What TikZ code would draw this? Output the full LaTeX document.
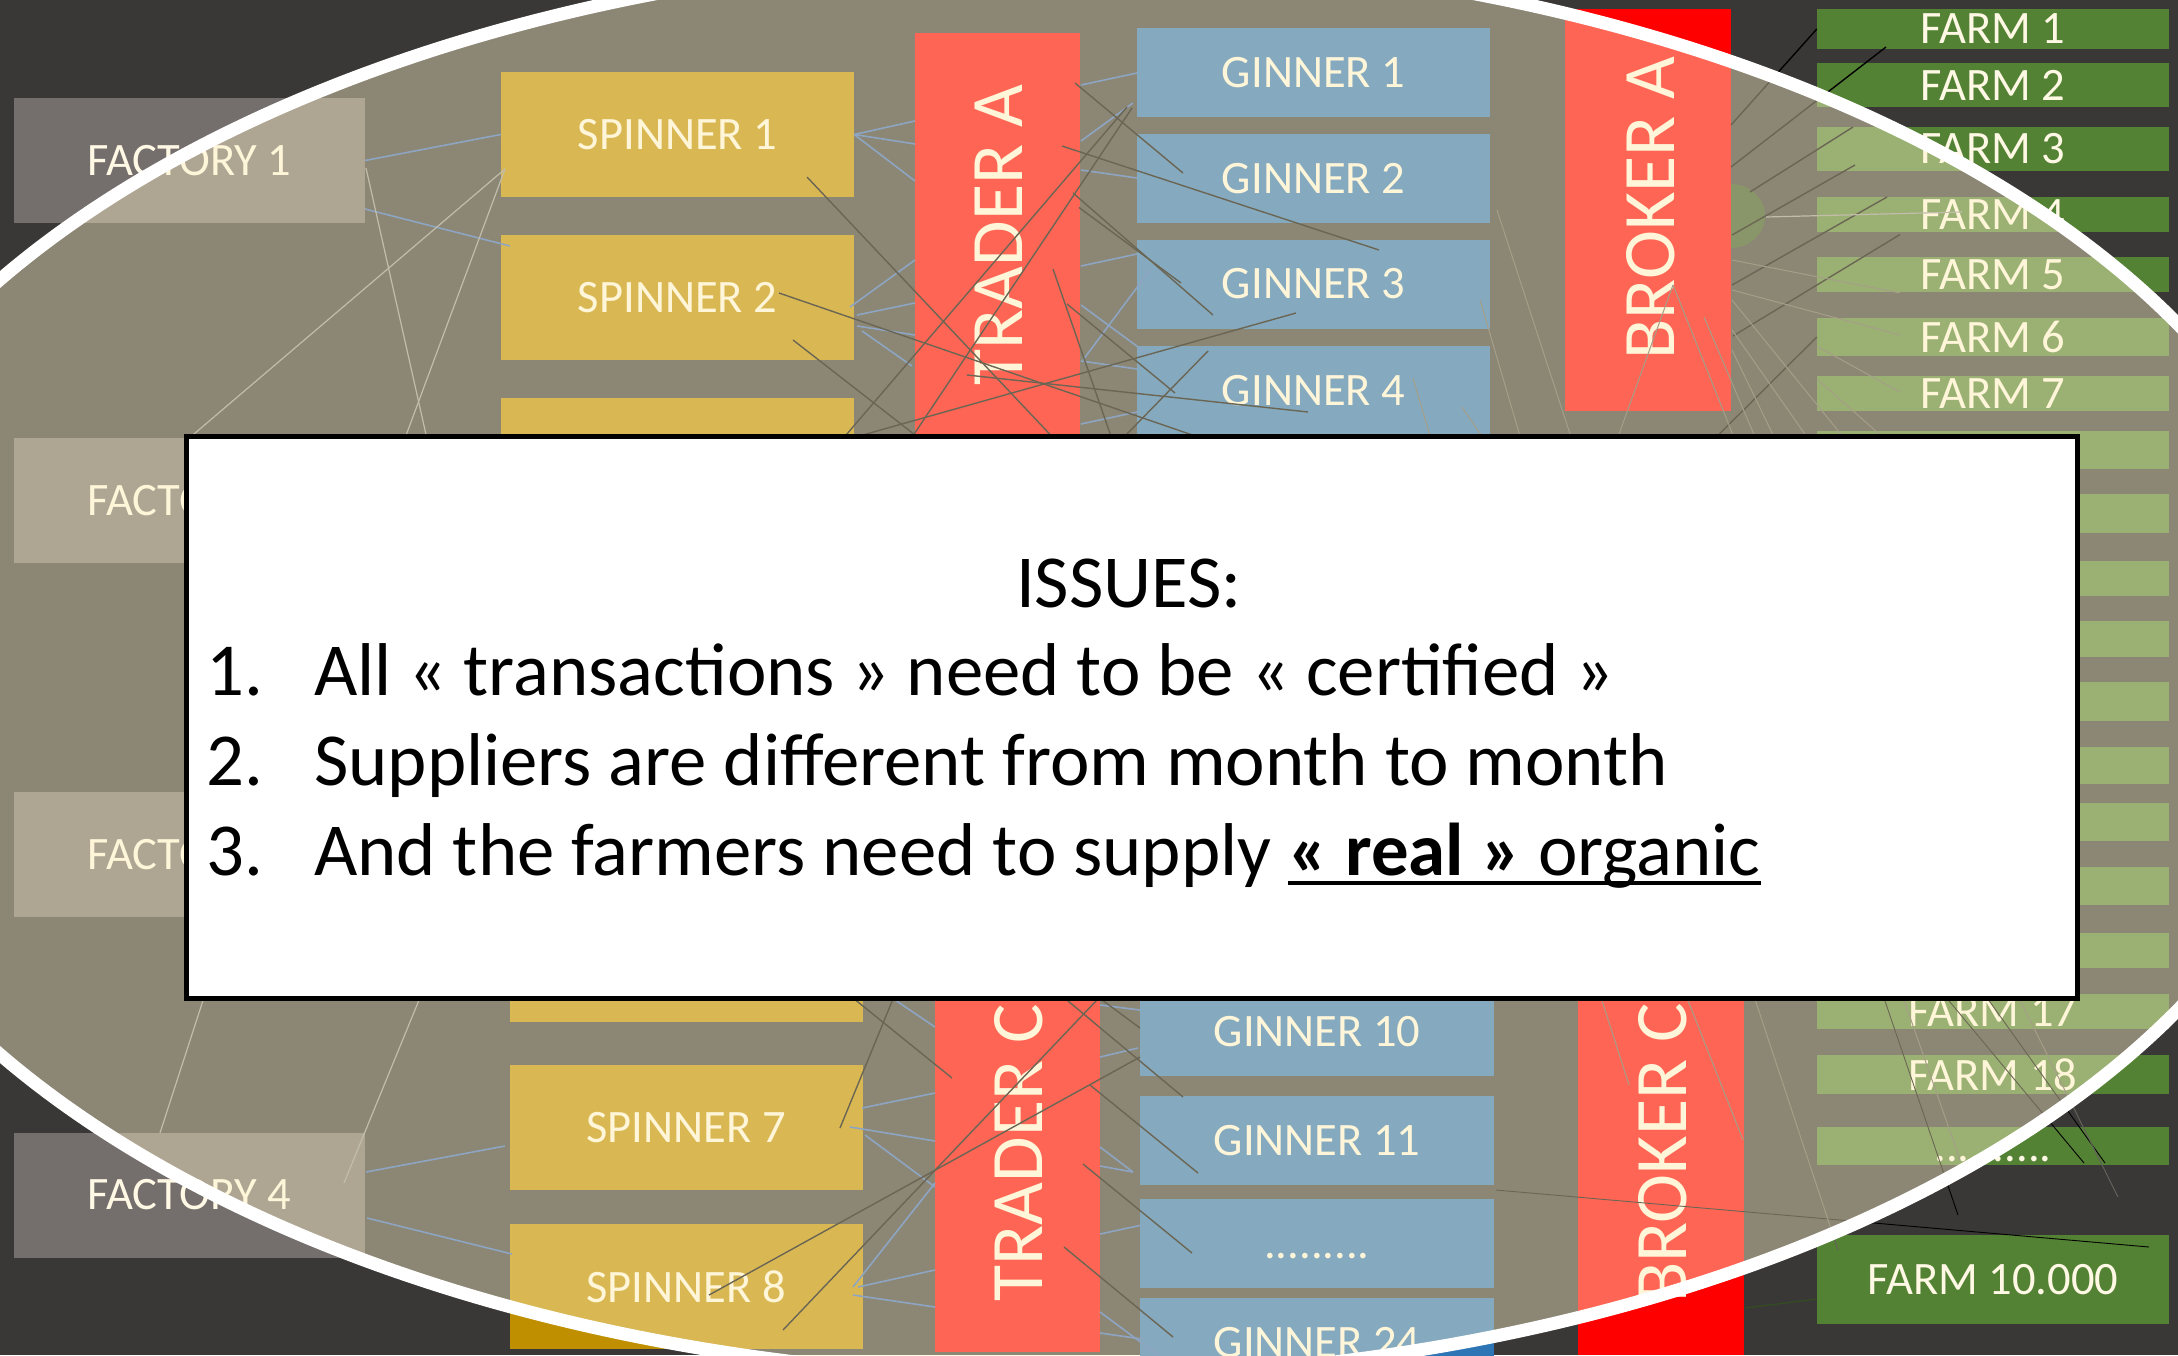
\documentclass[tikz,border=0pt]{standalone}
\usepackage{fontspec}
\setmainfont{Carlito}
\usetikzlibrary{calc}
\definecolor{bgd}{RGB}{58,56,54}
\definecolor{facc}{RGB}{116,111,108}
\definecolor{spc}{RGB}{191,143,0}
\definecolor{redc}{RGB}{255,0,0}
\definecolor{ginc}{RGB}{46,117,182}
\definecolor{frmc}{RGB}{84,130,53}
\definecolor{circc}{RGB}{52,83,35}
\definecolor{ovl}{RGB}{255,243,202}
\definecolor{txtc}{RGB}{255,248,228}
\definecolor{bluc}{RGB}{60,110,190}
\definecolor{lgtc}{RGB}{150,150,150}
\definecolor{fntc}{RGB}{100,97,90}
\definecolor{dgrn}{RGB}{50,80,30}
\newsavebox\ulbox
\newcommand\myul[1]{\sbox\ulbox{#1}\rlap{\rule[-10pt]{\wd\ulbox}{4pt}}\usebox\ulbox}
\newcommand\lnk[5]{\draw[#1] ($(#2)+(#3)$) -- ($(#4)+(#5)$);}
\begin{document}
\begin{tikzpicture}[x=1pt,y=-1pt,
  box/.style={draw=none, inner sep=0pt, text=txtc, font=\fontsize{46.5}{50}\selectfont},
  fac/.style={box, fill=facc, minimum width=351pt, minimum height=125pt},
  spn/.style={box, fill=spc, minimum width=353pt, minimum height=125pt},
  bar/.style={box, fill=redc, minimum width=165pt},
  gin/.style={box, fill=ginc, minimum width=354pt, minimum height=89pt},
  frm/.style={box, fill=frmc, minimum width=352pt},
  vlab/.style={text=txtc, font=\fontsize{74}{80}\selectfont, rotate=90, inner sep=0pt},
  dots/.style={text height=30pt, text depth=0pt},
  blk/.style={draw=black, line width=1.4pt},
  thn/.style={draw=black, line width=0.9pt},
  blu/.style={draw=bluc, line width=1.6pt},
  lgt/.style={draw=lgtc, line width=1.2pt},
  fnt/.style={draw=fntc, line width=1pt},
  iss/.style={inner sep=0pt, text=black, font=\fontsize{74.8}{80}\selectfont}
]
\useasboundingbox (0,0) rectangle (2178,1355);
\clip (0,0) rectangle (2178,1355);
\fill[bgd] (0,0) rectangle (2178,1355);

% hidden coordinates under the issues box
\coordinate (h1) at (470,630);  \coordinate (h2) at (330,640);
\coordinate (h3) at (268,800);  \coordinate (h4) at (501,800);
\coordinate (h5) at (1110,498); \coordinate (h6) at (1300,472);
\coordinate (h7) at (960,470);  \coordinate (h8) at (739,560);
\coordinate (h9) at (830,560);  \coordinate (h10) at (1140,520);
\coordinate (h11) at (703,480); \coordinate (h12) at (1043,520);
\coordinate (h13) at (1440,470);\coordinate (h14) at (1505,470);
\coordinate (h15) at (1633,520);\coordinate (h16) at (1606,470);
\coordinate (h17) at (1747,470);\coordinate (h18) at (1769,470);
\coordinate (h19) at (1920,470);\coordinate (h20) at (1585,480);
\coordinate (h21) at (1830,470);\coordinate (h22) at (1790,470);
\coordinate (h23) at (1870,470);\coordinate (h24) at (836,960);
\coordinate (h25) at (806,960); \coordinate (h26) at (909,960);
\coordinate (h27) at (1135,960);\coordinate (h28) at (1019,960);
\coordinate (h29) at (1048,960);\coordinate (h30) at (1742,960);
\coordinate (h31) at (1589,960);\coordinate (h32) at (1672,960);
\coordinate (h33) at (1871,960);\coordinate (h34) at (1915,960);
\coordinate (h35) at (1960,960);\coordinate (h36) at (2000,960);
\coordinate (h37) at (1890,960);\coordinate (h38) at (1530,470);

% green circle behind broker A
\fill[circc] (1731,216) ellipse [x radius=34pt, y radius=32pt];
\coordinate (gc) at (1731,216);

% factories
\node[fac] (fa1) at (189.5,160.5) {FACTORY 1};
\node[fac] (fa2) at (189.5,500.5) {FACTORY 2};
\node[fac] (fa3) at (189.5,854.5) {FACTORY 3};
\node[fac] (fa4) at (189.5,1195) {FACTORY 4};
% spinners
\node[spn] (sp1) at (677.5,134.5) {SPINNER 1};
\node[spn] (sp2) at (677.5,297.5) {SPINNER 2};
\node[spn] (sp3) at (677.5,460.5) {};
\node[spn] (sp6) at (686,959.5) {};
\node[spn] (sp7) at (686,1127.5) {SPINNER 7};
\node[spn] (sp8) at (686,1286.5) {SPINNER 8};
% traders and brokers
\node[bar, minimum height=447pt] (trA) at (997,256.5) {};
\node[bar, minimum height=392pt] (trC) at (1017.5,1156) {};
\node[bar, minimum width=166pt, minimum height=402pt] (brA) at (1648,210) {};
\node[bar, minimum width=166pt, minimum height=395pt] (brC) at (1661,1157.5) {};
\node[vlab] (trAl) at (999,235) {TRADER A};
\node[vlab] (trCl) at (1019,1153) {TRADER C};
\node[vlab] (brAl) at (1650.5,208) {BROKER A};
\node[vlab] (brCl) at (1663,1153) {BROKER C};
% ginners
\node[gin, minimum width=353pt] (gi1) at (1313.5,72.5) {GINNER 1};
\node[gin, minimum width=353pt] (gi2) at (1313.5,178.5) {GINNER 2};
\node[gin, minimum width=353pt] (gi3) at (1313.5,284) {GINNER 3};
\node[gin, minimum width=353pt] (gi4) at (1313.5,390.5) {GINNER 4};
\node[gin] (gi10) at (1317,1031.5) {GINNER 10};
\node[gin] (gi11) at (1317,1140.5) {GINNER 11};
\node[gin, dots] (gid) at (1317,1243) {.........};
\node[gin] (gi24) at (1317,1342.5) {GINNER 24};
% farms
\node[frm, minimum height=40pt] (fm1) at (1993,29) {FARM 1};
\node[frm, minimum height=44pt] (fm2) at (1993,85) {FARM 2};
\node[frm, minimum height=44pt] (fm3) at (1993,149) {FARM 3};
\node[frm, minimum height=35pt] (fm4) at (1993,214.5) {FARM 4};
\node[frm, minimum height=35pt] (fm5) at (1993,274.5) {FARM 5};
\node[frm, minimum height=38pt] (fm6) at (1993,337) {FARM 6};
\node[frm, minimum height=35pt] (fm7) at (1993,393.5) {FARM 7};
\node[frm, minimum height=38pt] (fm8) at (1993,450) {};
\node[frm, minimum height=39pt] (fm9) at (1993,513.5) {};
\node[frm, minimum height=35pt] (fm10) at (1993,578.5) {};
\node[frm, minimum height=36pt] (fm11) at (1993,639) {};
\node[frm, minimum height=39pt] (fm12) at (1993,701.5) {};
\node[frm, minimum height=37pt] (fm13) at (1993,765.5) {};
\node[frm, minimum height=38pt] (fm14) at (1993,822) {};
\node[frm, minimum height=38pt] (fm15) at (1993,886) {};
\node[frm, minimum height=35pt] (fm16) at (1993,950.5) {};
\node[frm, minimum height=35pt] (fm17) at (1993,1011.5) {FARM 17};
\node[frm, minimum height=39pt] (fm18) at (1993,1074.5) {FARM 18};
\node[frm, minimum height=38pt, dots] (fmd) at (1993,1146) {..........};
\node[frm, minimum height=89pt] (fmX) at (1993,1279.5) {FARM 10.000};

% ---------- connectors ----------
% factories - spinners
\draw[blu] (fa1.east) -- (sp1.west);
\lnk{blu}{fa1}{175.5,48.5}{sp2}{-167.5,-51.5}
\lnk{lgt}{fa1}{176.5,7.5}{h1}{0,0}
\lnk{lgt}{sp1}{-172.5,34.5}{fa2.north}{0,0}
\lnk{lgt}{sp1}{-172.5,34.5}{h2}{0,0}
\lnk{lgt}{fa4}{-29.5,-62}{h3}{0,0}
\lnk{lgt}{fa4}{154.5,-12}{h4}{0,0}
\lnk{blu}{fa4}{176.5,-23}{sp7}{-181,18.5}
\lnk{blu}{fa4}{177.5,23}{sp8}{-174,-32.5}
% spinners - trader A
\lnk{blu}{sp1.east}{0,0}{trA}{-82,-135.5}
\lnk{blu}{sp1.east}{0,0}{trA}{-82,-112.5}
\lnk{blu}{sp1.east}{0,0}{trA}{-82,-75.5}
\lnk{blu}{sp2}{172.5,9.5}{trA}{-82,3.5}
\lnk{blu}{sp2}{179.5,17.5}{trA}{-82,46.5}
\lnk{blu}{sp2}{179.5,28.5}{trA}{-82,78.5}
\lnk{blu}{sp2}{184.5,33.5}{trA}{-85,109.5}
% trader A - ginners
\lnk{blu}{trA}{84,-171.5}{gi1}{-176.5,0.5}
\lnk{blu}{trA}{84,-115.5}{gi1}{-180.5,30.5}
\lnk{blu}{trA}{84,-86.5}{gi2}{-176.5,-0.5}
\lnk{blu}{trA}{84,9.5}{gi3}{-176.5,-30}
\lnk{blu}{trA}{84,48.5}{gi4}{-160.5,-32.5}
\lnk{blu}{trA}{86,103.5}{gi3}{-163.5,-14}
\lnk{blu}{trA}{84,104.5}{gi4}{-176.5,-21.5}
\lnk{blu}{trA}{84,167.5}{gi4}{-176.5,21.5}
% black crossings, upper part
\lnk{blk}{sp1}{129.5,42.5}{h5}{0,0}
\lnk{blk}{sp2}{101.5,-4.5}{h6}{0,0}
\lnk{blk}{sp2}{115.5,42.5}{h7}{0,0}
\lnk{blk}{gi1}{-186.5,34.5}{h8}{0,0}
\lnk{blk}{gi1}{-181.5,35.5}{h9}{0,0}
\lnk{blk}{trA}{78,-173.5}{gi2}{-130.5,-5.5}
\lnk{blk}{trA}{65,-110.5}{gi3}{65.5,-34}
\lnk{blk}{trA}{76,-63.5}{gi3}{-100.5,31}
\lnk{blk}{trA}{82,-49}{gi3}{-132.5,-1}
\lnk{blk}{trA}{56,12.5}{h10}{0,0}
\lnk{blk}{trA}{70,47.5}{gi4}{-138.5,2.5}
\lnk{blk}{trA}{-30,118.5}{gi4}{-5.5,21.5}
\lnk{blk}{gi3}{-17.5,29}{h11}{0,0}
\lnk{blk}{gi4}{-105.5,-39.5}{h12}{0,0}
\lnk{fnt}{gi4}{99.5,-12.5}{h13}{0,0}
\lnk{fnt}{gi4}{148.5,16.5}{h14}{0,0}
\lnk{fnt}{gi2}{183.5,31.5}{h20}{0,0}
\lnk{fnt}{gi3}{166.5,16}{h38}{0,0}
% broker A - farms
\lnk{blk}{fm1.west}{0,0}{brA}{83,-85}
\lnk{blk}{fm1}{-107,18}{brA}{83,-43}
\lnk{blk}{fm3}{-140,-22}{gc}{19,-24}
\lnk{blk}{fm3}{-138,16}{brA}{84,25}
\lnk{blk}{fm4}{-106,-17.5}{brA}{84,75}
\lnk{blk}{fm4}{-93,20}{brA}{85,126}
\lnk{blk}{fm6.west}{0,0}{h15}{0,0}
\lnk{fnt}{brA}{25,75}{h16}{0,0}
\lnk{fnt}{brA}{25,75}{h17}{0,0}
\lnk{fnt}{brA}{56,107}{h18}{0,0}
\lnk{fnt}{brA}{84,50}{fm5}{-93,18.5}
\lnk{fnt}{brA}{84,80}{fm6}{-93,-2}
\lnk{fnt}{fm6}{-175,10}{fm7}{-93,-1.5}
\lnk{fnt}{fm7}{-175,-13.5}{h19}{0,0}
\lnk{lgt}{gc}{35,1}{fm4}{-31,-2.5}
\lnk{fnt}{brA}{84,120}{h21}{0,0}
\lnk{fnt}{brA}{84,140}{h22}{0,0}
\lnk{fnt}{brA}{84,90}{h23}{0,0}
% lower part: spinners - trader C
\lnk{blu}{h24}{0,0}{trC}{-82.5,-129}
\lnk{blu}{sp7}{176,-19.5}{trC}{-82.5,-63}
\lnk{blu}{sp7}{164,-0.5}{trC}{-82.5,-15}
\lnk{blu}{sp7}{179,7.5}{trC}{-82.5,31}
\lnk{blu}{sp8}{167,0.5}{trC}{-82.5,27}
\lnk{blu}{sp8}{172,0.5}{trC}{-82.5,114}
\lnk{blu}{sp8}{167,8.5}{trC}{-82.5,151}
% trader C - ginners
\lnk{blu}{trC}{82.5,-151}{gi10}{-177,-21.5}
\lnk{blu}{trC}{82.5,-99}{gi10}{-179,16.5}
\lnk{blu}{trC}{82.5,-9}{gi11}{-184,31.5}
\lnk{blu}{trC}{82.5,10}{gi11}{-184,31.5}
\lnk{blu}{trC}{82.5,78}{gid}{-175,-18}
\lnk{blu}{trC}{82.5,156}{gi24}{-159,12.5}
\lnk{blu}{trC}{82.5,177}{gi24}{-175,-3.5}
% black crossings, lower part
\lnk{blk}{h25}{0,0}{trC}{-65.5,-78}
\lnk{blk}{sp7}{154,0.5}{h26}{0,0}
\lnk{blk}{sp8}{23,8.5}{gi10}{-177,25.5}
\lnk{blk}{sp8}{97,43.5}{h27}{0,0}
\lnk{blk}{h28}{0,0}{gi11}{-134,-43.5}
\lnk{blk}{trC}{72.5,-71}{gi11}{-119,32.5}
\lnk{blk}{trC}{65.5,8}{gid}{-125,10}
\lnk{blk}{trC}{46.5,91}{gi24}{-144,-5.5}
\lnk{blk}{h29}{0,0}{gi10}{-177,-3.5}
% lower right
\lnk{thn}{gid}{179,-53}{fmX}{156,-32.5}
\draw[dgrn, line width=1pt] ($(brC)+(84,150.5)$) -- ($(fmX.west)+(0,19.5)$);
\lnk{fnt}{h30}{0,0}{fmX}{-155,-29.5}
\lnk{fnt}{h31}{0,0}{brC}{-32,-72.5}
\lnk{fnt}{h32}{0,0}{brC}{82,-17.5}
\lnk{thn}{h33}{0,0}{fmd}{-35,69}
\lnk{thn}{h34}{0,0}{fmd}{91,17}
\lnk{thn}{h35}{0,0}{fmd}{112,17}
\lnk{fnt}{h36}{0,0}{fmd}{125,51}
\lnk{fnt}{h37}{0,0}{fmd}{-33,14}

% spotlight
\fill[ovl, opacity=0.42] (1065,667) ellipse [x radius=1270pt, y radius=711pt];
\draw[white, line width=13pt] (1065,667) ellipse [x radius=1270pt, y radius=711pt];

% issues box
\draw[black, line width=5pt, fill=white] (186.5,436.5) rectangle (2077.5,998.5);
\node[iss, anchor=base] (title) at (1129,607) {ISSUES:};
\node[iss, anchor=base west] (n1) at (206,695) {1.};
\node[iss, anchor=base west] (t1) at (314,695) {All « transactions » need to be « certified »};
\node[iss, anchor=base west] (n2) at (206,785) {2.};
\node[iss, anchor=base west] (t2) at (314,785) {Suppliers are different from month to month};
\node[iss, anchor=base west] (n3) at (206,875) {3.};
\node[iss, anchor=base west] (t3) at (314,875) {And the farmers need to supply \myul{\textbf{« real »} organic}};
\end{tikzpicture}
\end{document}
